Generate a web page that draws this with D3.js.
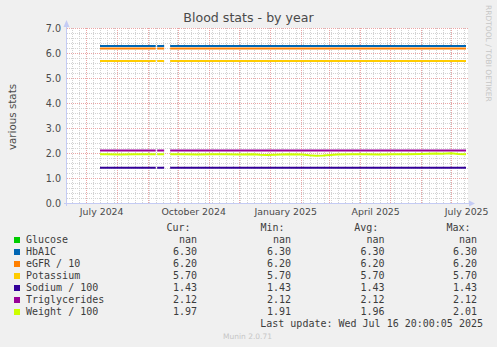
<!DOCTYPE html>
<html>
<head>
<meta charset="utf-8">
<script src="https://cdn.jsdelivr.net/npm/d3@7"></script>
<style>
  body { margin: 0; background: #f0f0f0; }
  svg { display: block; }
  .grid .tick line { stroke-dasharray: 1,1; shape-rendering: crispEdges; }
  .grid.minor .tick line { stroke: #d2d2d2; }
  .grid.major .tick line { stroke: #eaa6a6; }
  .legend text { font-family: "DejaVu Sans Mono", monospace; font-size: 10px; fill: #3c3c3c; }
</style>
</head>
<body>
<svg id="chart" width="497" height="347"></svg>
<script>
// ---- data ----
const seriesNames  = ["Glucose", "HbA1C", "eGFR / 10", "Potassium", "Sodium / 100", "Triglycerides", "Weight / 100"];
const seriesColors = ["#00cc00", "#0066b3", "#ff8000", "#ffcc00", "#330099", "#990099", "#ccff00"];
// readings that stayed flat over the whole year (null = no data / sampled separately)
const seriesLevels = [null, 6.30, 6.20, 5.70, 1.43, 2.12, null];

const statCur = ["nan", "6.30", "6.20", "5.70", "1.43", "2.12", "1.97"];
const statMin = ["nan", "6.30", "6.20", "5.70", "1.43", "2.12", "1.91"];
const statAvg = ["nan", "6.30", "6.20", "5.70", "1.43", "2.12", "1.96"];
const statMax = ["nan", "6.30", "6.20", "5.70", "1.43", "2.12", "2.01"];

// periods in which readings were collected
const coverageStart = ["2024-07-14 20:00", "2024-09-10 00:00", "2024-09-23 00:00"];
const coverageEnd   = ["2024-09-08 14:00", "2024-09-17 00:00", "2025-07-15 20:00"];

// weight / 100 samples
const weightDates = [
  "2024-07-14 20:00", "2024-07-21 00:00", "2024-08-04 00:00", "2024-08-18 00:00", "2024-09-01 00:00", "2024-09-08 14:00",
  "2024-09-09 00:00",
  "2024-09-10 00:00", "2024-09-17 00:00",
  "2024-09-20 00:00",
  "2024-09-23 00:00", "2024-10-06 00:00", "2024-10-20 00:00", "2024-11-03 00:00", "2024-11-17 00:00", "2024-12-01 00:00",
  "2024-12-15 00:00", "2024-12-22 00:00", "2024-12-29 00:00", "2025-01-05 00:00", "2025-01-12 00:00", "2025-01-19 00:00",
  "2025-02-02 00:00", "2025-02-09 00:00", "2025-02-16 00:00", "2025-02-23 00:00", "2025-03-02 00:00", "2025-03-09 00:00",
  "2025-03-23 00:00", "2025-04-06 00:00", "2025-04-20 00:00", "2025-05-04 00:00", "2025-05-18 00:00", "2025-06-01 00:00",
  "2025-06-15 00:00", "2025-06-22 00:00", "2025-07-01 00:00", "2025-07-08 00:00", "2025-07-15 20:00"
];
const weightValues = [
  1.97, 1.97, 1.96, 1.97, 1.97, 1.97,
  null,
  1.97, 1.97,
  null,
  1.97, 1.97, 1.96, 1.97, 1.97, 1.96,
  1.97, 1.95, 1.94, 1.95, 1.96, 1.97,
  1.96, 1.93, 1.91, 1.92, 1.94, 1.96,
  1.97, 1.97, 1.96, 1.97, 1.97, 1.98,
  2.00, 1.99, 2.01, 1.98, 1.97
];

const yTicks = [0, 1, 2, 3, 4, 5, 6, 7];
const xLabelMonths = ["2024-07-01", "2024-10-01", "2025-01-01", "2025-04-01", "2025-07-01"];
const xLabelText = ["July 2024", "October 2024", "January 2025", "April 2025", "July 2025"];

const titleText = "Blood stats - by year";
const yAxisTitle = "various stats";
const lastUpdate = "2025-07-16 20:00:05";
const lastUpdateText = "Last update: Wed Jul 16 20:00:05 2025";
const watermark = "RRDTOOL / TOBI OETIKER";
const footer = "Munin 2.0.71";

// ---- layout ----
const svg = d3.select("#chart");
const plot = { left: 67, right: 467, top: 28, bottom: 203 };
const parseT = d3.timeParse("%Y-%m-%d %H:%M");
const parseD = d3.timeParse("%Y-%m-%d");
const tEnd = d3.timeParse("%Y-%m-%d %H:%M:%S")(lastUpdate);
const tStart = d3.timeDay.offset(tEnd, -400);

const x = d3.scaleTime().domain([tStart, tEnd]).range([plot.left, plot.right]);
const y = d3.scaleLinear().domain([0, 7]).range([plot.bottom, plot.top]);

svg.append("rect").attr("width", 497).attr("height", 347).attr("fill", "#f0f0f0");
svg.append("rect")
  .attr("x", plot.left).attr("y", plot.top)
  .attr("width", plot.right - plot.left + 1).attr("height", plot.bottom - plot.top)
  .attr("fill", "#ffffff");

// ---- grid (snapped to whole pixels so the dots stay crisp) ----
const plotW = plot.right - plot.left + 2;
const plotH = plot.bottom - plot.top;
const minorY = d3.range(0, 7.001, 0.2).filter(v => Math.abs(v - Math.round(v)) > 1e-6);

function gridY(cls, values) {
  svg.append("g").attr("class", "grid " + cls)
    .attr("transform", `translate(${plot.left},0)`)
    .call(d3.axisLeft(y).tickValues(values).tickSize(-plotW).tickFormat(""))
    .call(g => g.select(".domain").remove())
    .call(g => g.selectAll(".tick").attr("transform", d => `translate(0,${Math.round(y(d)) + 0.5})`));
}
function gridX(cls, values) {
  svg.append("g").attr("class", "grid " + cls)
    .attr("transform", `translate(0,${plot.bottom})`)
    .call(d3.axisBottom(x).tickValues(values).tickSize(-plotH).tickFormat(""))
    .call(g => g.select(".domain").remove())
    .call(g => g.selectAll(".tick").attr("transform", d => `translate(${Math.floor(x(d)) + 0.5},0)`));
}
gridX("minor", d3.timeMonday.range(tStart, tEnd));
gridY("minor", minorY);
gridX("major", d3.timeMonth.range(tStart, tEnd));
gridY("major", yTicks.slice(1));

// ---- axes ----
const axisColor = "#c4cbf4";
svg.append("line")
  .attr("x1", plot.left - 0.5).attr("x2", plot.left - 0.5)
  .attr("y1", plot.bottom + 3).attr("y2", plot.top - 6)
  .attr("stroke", axisColor);
svg.append("path")
  .attr("d", `M${plot.left - 3.5},${plot.top - 1} L${plot.left + 2.5},${plot.top - 1} L${plot.left - 0.5},${plot.top - 8} Z`)
  .attr("fill", axisColor);
svg.append("line")
  .attr("x1", plot.left - 3).attr("x2", plot.right + 6)
  .attr("y1", plot.bottom + 0.5).attr("y2", plot.bottom + 0.5)
  .attr("stroke", axisColor);
svg.append("path")
  .attr("d", `M${plot.right + 2},${plot.bottom - 2.5} L${plot.right + 2},${plot.bottom + 3.5} L${plot.right + 8},${plot.bottom + 0.5} Z`)
  .attr("fill", axisColor);

const yAxis = svg.append("g")
  .attr("transform", `translate(${plot.left},0)`)
  .call(d3.axisLeft(y).tickValues(yTicks).tickFormat(d3.format(".1f")).tickSize(0).tickPadding(6));
yAxis.select(".domain").remove();
yAxis.selectAll("text")
  .attr("font-family", "DejaVu Sans, sans-serif").attr("font-size", "9.6px").attr("fill", "#4a4a4a");

const xAxis = svg.append("g")
  .attr("transform", `translate(0,${plot.bottom})`)
  .call(d3.axisBottom(x)
    .tickValues(xLabelMonths.map(m => d3.timeDay.offset(parseD(m), 15)))
    .tickFormat((d, i) => xLabelText[i]).tickSize(0).tickPadding(5));
xAxis.select(".domain").remove();
xAxis.selectAll("text")
  .attr("font-family", "DejaVu Sans, sans-serif").attr("font-size", "9.4px").attr("fill", "#4a4a4a");

// ---- series ----
const line = d3.line()
  .defined(d => d.v != null)
  .x(d => x(d.t))
  .y(d => y(d.v));

const seriesData = seriesNames.map((name, i) => {
  if (seriesLevels[i] != null) {
    const pts = [];
    coverageStart.forEach((s, k) => {
      if (k > 0) pts.push({ t: parseT(s), v: null });
      pts.push({ t: parseT(s), v: seriesLevels[i] });
      pts.push({ t: parseT(coverageEnd[k]), v: seriesLevels[i] });
    });
    return pts;
  }
  if (name.startsWith("Weight")) {
    return weightDates.map((d, k) => ({ t: parseT(d), v: weightValues[k] }));
  }
  return [];
});

const linesG = svg.append("g").attr("transform", "translate(0,0.5)");
seriesData.forEach((pts, i) => {
  if (!pts.length) return;
  linesG.append("path")
    .datum(pts)
    .attr("d", line)
    .attr("fill", "none")
    .attr("stroke", seriesColors[i])
    .attr("stroke-width", 2)
    .attr("stroke-linejoin", "round");
});

// ---- titles ----
svg.append("text")
  .attr("x", 248.5).attr("y", 22)
  .attr("text-anchor", "middle")
  .attr("font-family", "DejaVu Sans, sans-serif").attr("font-size", "12.6px").attr("fill", "#4a4a4a")
  .text(titleText);

svg.append("text")
  .attr("transform", "translate(15.5,117) rotate(-90)")
  .attr("text-anchor", "middle")
  .attr("font-family", "DejaVu Sans, sans-serif").attr("font-size", "10.3px").attr("fill", "#4a4a4a")
  .text(yAxisTitle);

svg.append("text")
  .attr("transform", "translate(486,5) rotate(90)")
  .attr("font-family", "DejaVu Sans, sans-serif").attr("font-size", "7.5px").attr("fill", "#c6c6c6")
  .text(watermark);

// ---- legend ----
const legend = svg.append("g").attr("class", "legend");
const colHead = ["Cur:", "Min:", "Avg:", "Max:"];
const colHeadX = [166.5, 260.5, 354.2, 446.5];
const colValEnd = [197, 291, 384.5, 477];
const stats = [statCur, statMin, statAvg, statMax];

colHead.forEach((h, c) => {
  legend.append("text").attr("x", colHeadX[c]).attr("y", 231).text(h);
});
seriesNames.forEach((name, i) => {
  const base = 243 + i * 12;
  legend.append("rect")
    .attr("x", 14).attr("y", base - 6).attr("width", 6).attr("height", 6)
    .attr("fill", seriesColors[i]);
  legend.append("text").attr("x", 26).attr("y", base).text(name);
  stats.forEach((col, c) => {
    legend.append("text").attr("x", colValEnd[c]).attr("y", base)
      .attr("text-anchor", "end").text(col[i]);
  });
});
legend.append("text").attr("x", 483).attr("y", 327).attr("text-anchor", "end").text(lastUpdateText);

svg.append("text")
  .attr("x", 247.5).attr("y", 338.5)
  .attr("text-anchor", "middle")
  .attr("font-family", "DejaVu Sans, sans-serif").attr("font-size", "7.5px").attr("fill", "#c6c6c6")
  .text(footer);
</script>
</body>
</html>
